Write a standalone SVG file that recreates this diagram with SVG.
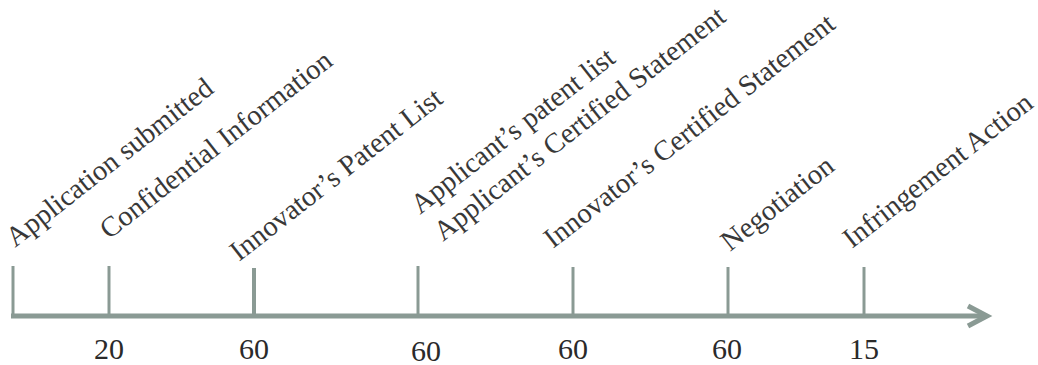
<svg xmlns="http://www.w3.org/2000/svg" width="1038" height="365" viewBox="0 0 1038 365">
<style>
.ax{stroke:#8a9a94;fill:none;stroke-linecap:butt}
.lbl{font-family:"Liberation Serif","Times New Roman",serif;font-size:28.5px;fill:#383838}
.num{font-family:"Liberation Serif","Times New Roman",serif;font-size:30px;fill:#2a2a2a;text-anchor:middle}
</style>
<rect width="1038" height="365" fill="#ffffff"/>
<g id="connectors">
<line class="ax" x1="11" y1="316" x2="986" y2="316" stroke-width="5"/>
<polyline class="ax" points="968,306 987,316 968,326" stroke-width="5" stroke-linejoin="miter"/>
<line class="ax" x1="13" y1="266" x2="13" y2="316" stroke-width="3"/>
<line class="ax" x1="109" y1="266" x2="109" y2="316" stroke-width="3"/>
<line class="ax" x1="254" y1="268" x2="254" y2="316" stroke-width="4"/>
<line class="ax" x1="418" y1="266" x2="418" y2="316" stroke-width="3"/>
<line class="ax" x1="573" y1="267" x2="573" y2="316" stroke-width="3"/>
<line class="ax" x1="728" y1="267" x2="728" y2="316" stroke-width="3"/>
<line class="ax" x1="864" y1="267" x2="864" y2="316" stroke-width="3"/>
</g>
<g id="n1"><text class="lbl" transform="translate(15,248) rotate(-38)">Application submitted</text></g>
<g id="n2"><text class="lbl" transform="translate(109,240) rotate(-38)">Confidential Information</text></g>
<g id="n3"><text class="lbl" transform="translate(239,262) rotate(-38)">Innovator’s Patent List</text></g>
<g id="n4"><text class="lbl" transform="translate(420,215) rotate(-38)">Applicant’s patent list</text></g>
<g id="n5"><text class="lbl" transform="translate(443,242) rotate(-38)">Applicant’s Certified Statement</text></g>
<g id="n6"><text class="lbl" transform="translate(553,249) rotate(-38)">Innovator’s Certified Statement</text></g>
<g id="n7"><text class="lbl" transform="translate(730,252) rotate(-38)">Negotiation</text></g>
<g id="n8"><text class="lbl" transform="translate(852,249) rotate(-38)">Infringement Action</text></g>
<g id="numbers">
<text class="num" x="109" y="359">20</text>
<text class="num" x="254" y="359">60</text>
<text class="num" x="426" y="361">60</text>
<text class="num" x="573" y="359">60</text>
<text class="num" x="727" y="359">60</text>
<text class="num" x="864" y="359">15</text>
</g>
</svg>
